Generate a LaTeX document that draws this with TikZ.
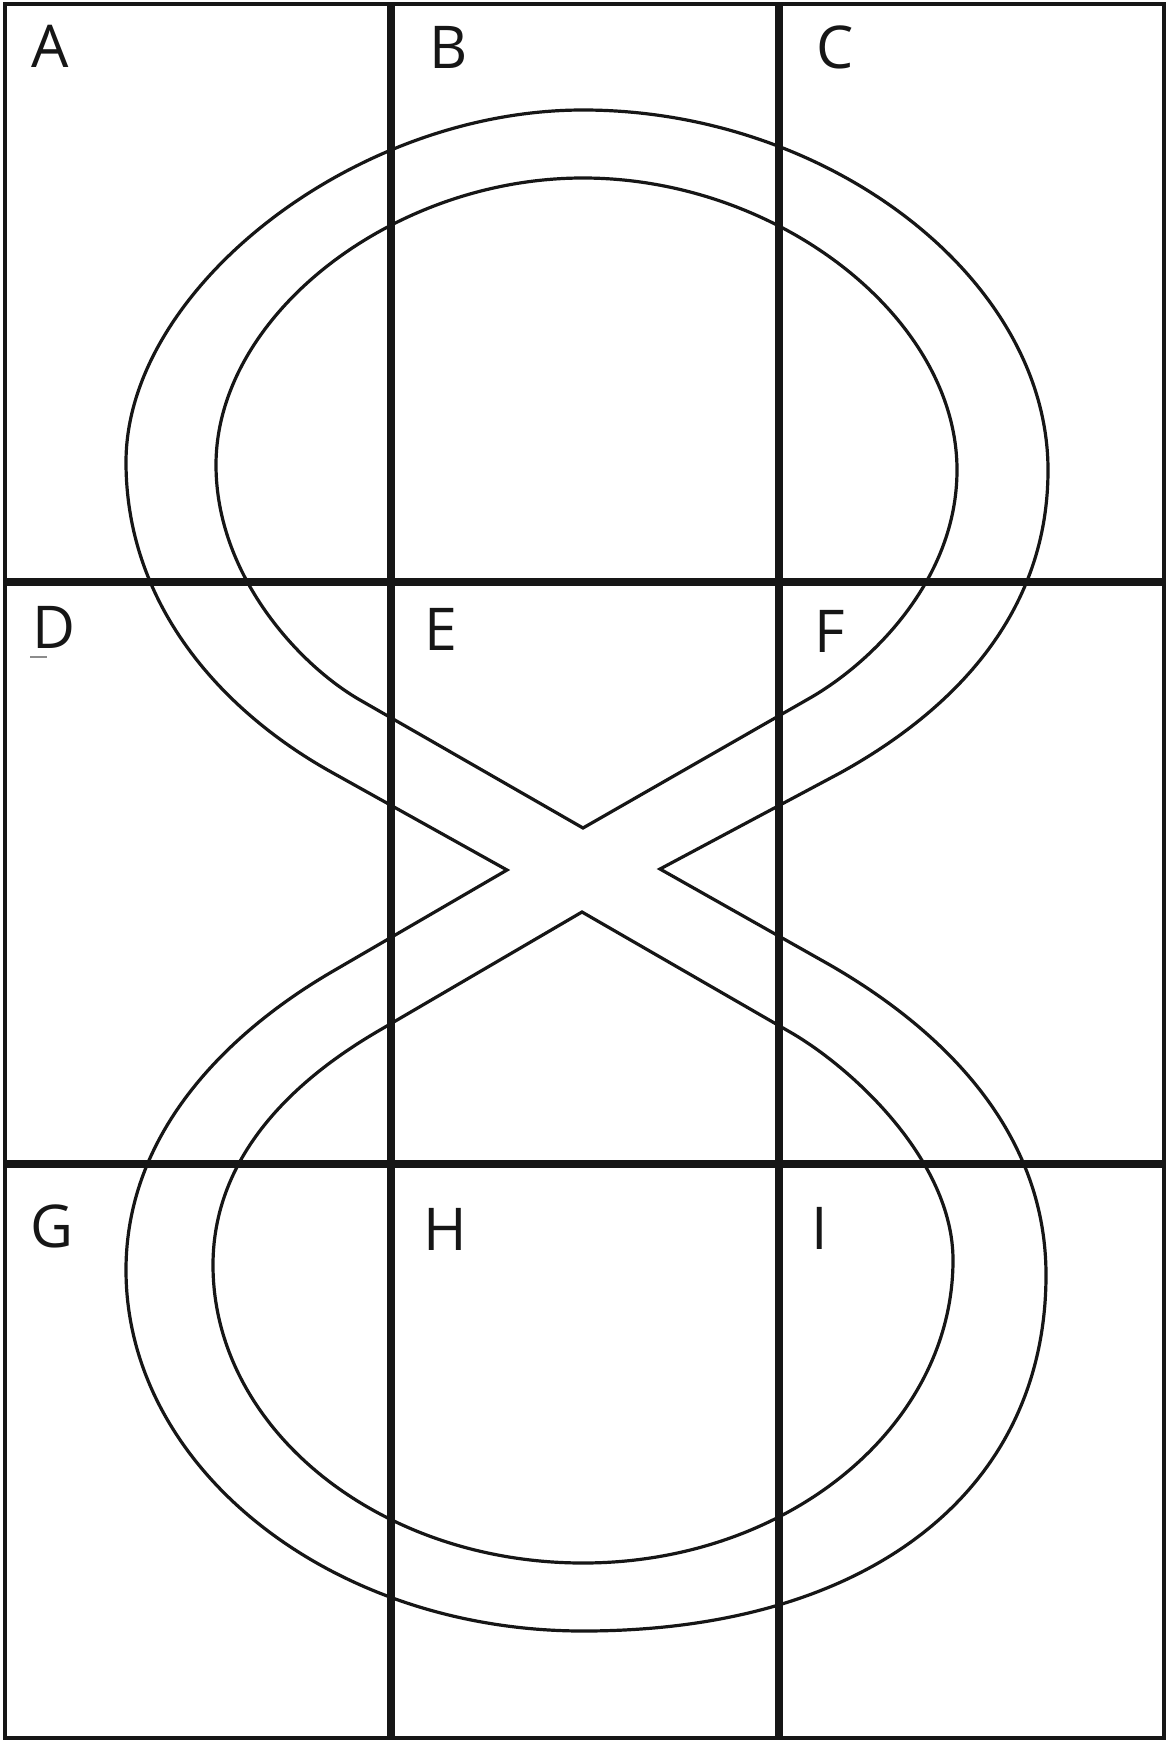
\documentclass[tikz,border=0pt]{standalone}
\usepackage{fontspec}
\setmainfont{Open Sans}
\usepackage{tikz}
\usepackage{xcolor}
\definecolor{inkblack}{RGB}{22,22,22}
\definecolor{smudge}{RGB}{140,140,140}

\begin{document}
\begin{tikzpicture}[x=1pt, y=-1pt,
  gridline/.style={inkblack, line width=8pt},
  frameline/.style={inkblack, line width=4.5pt},
  trackline/.style={inkblack, line width=3.2pt},
  celllabel/.style={inkblack, inner sep=0pt, anchor=base west,
    font=\fontsize{59}{60}\selectfont}]
  \useasboundingbox[fill=white] (0,0) rectangle (1169,1742);
  % Outer edge of the track (one closed line, pinched left and right)
  \draw[trackline] (507,870) -- (333,773)
    .. controls (228,715) and (126,610) .. (126,462)
    .. controls (126,290) and (353,110) .. (583,110)
    .. controls (829,110) and (1048,279) .. (1048,470)
    .. controls (1048,620) and (945,715) .. (840,773)
    -- (660,869) -- (830,965)
    .. controls (934,1025) and (1046,1125) .. (1046,1275)
    .. controls (1046,1490) and (870,1631) .. (583,1631)
    .. controls (332,1631) and (126,1469) .. (126,1270)
    .. controls (126,1130) and (231,1030) .. (335,970) -- cycle;
  % Inner edge, upper loop
  \draw[trackline] (583,828) -- (360,700)
    .. controls (299,665) and (216,575) .. (216,465)
    .. controls (216,315) and (393,178) .. (583,178)
    .. controls (778,178) and (957,318) .. (957,470)
    .. controls (957,580) and (871,663) .. (810,698) -- cycle;
  % Inner edge, lower loop
  \draw[trackline] (582,912) -- (380,1030)
    .. controls (311,1070) and (213,1145) .. (213,1265)
    .. controls (213,1429) and (379,1563) .. (583,1563)
    .. controls (787,1563) and (953,1427) .. (953,1260)
    .. controls (953,1160) and (851,1067) .. (790,1032) -- cycle;
  % Grid
  \draw[frameline] (5,4) rectangle (1164,1738);
  \draw[gridline] (391,4) -- (391,1738);
  \draw[gridline] (779,4) -- (779,1738);
  \draw[gridline] (5,582) -- (1164,582);
  \draw[gridline] (5,1164) -- (1164,1164);
  % Cell letters
  \foreach \lab/\x/\y in {A/31/68, B/429/69, C/816/69,
                          D/32/648, E/424/650, F/814/652,
                          G/30/1247, H/423/1250, I/811/1249}
    \node[celllabel] (lbl\lab) at (\x,\y) {\lab};
  % stray mark under D
  \draw[smudge, line width=1.5pt] (30,657) -- (47,657);
\end{tikzpicture}
\end{document}
